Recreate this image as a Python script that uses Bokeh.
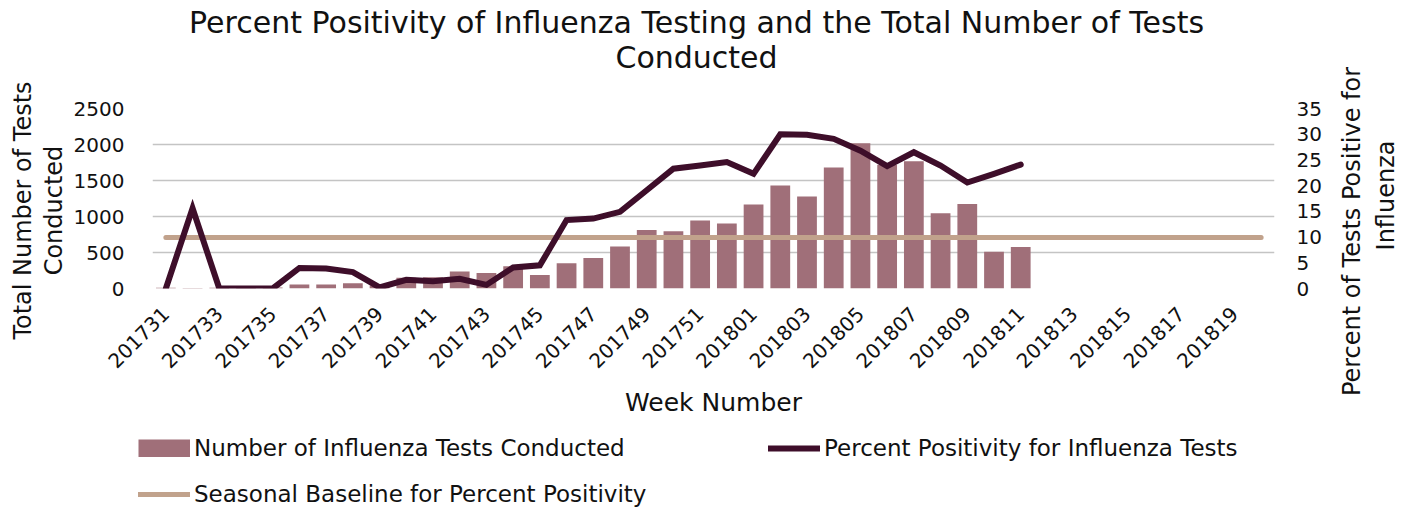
import math
from bokeh.plotting import figure
from bokeh.layouts import column, row
from bokeh.models import Range1d, LinearAxis, FixedTicker, Legend, LegendItem
from bokeh.core.properties import value
from bokeh.embed import file_html
from bokeh.resources import INLINE

# ---------------- data ----------------
weeks = ["201731", "201732", "201733", "201734", "201735", "201736", "201737",
         "201738", "201739", "201740", "201741", "201742", "201743", "201744",
         "201745", "201746", "201747", "201748", "201749", "201750", "201751",
         "201752", "201801", "201802", "201803", "201804", "201805", "201806",
         "201807", "201808", "201809", "201810", "201811", "201812", "201813",
         "201814", "201815", "201816", "201817", "201818", "201819", "201820"]

tests_conducted = [10, 6, 12, 9, 15, 55, 55, 74, 40, 150, 156, 235, 216, 308,
                   189, 350, 423, 584, 814, 796, 943, 902, 1168, 1431, 1279,
                   1679, 2019, 1720, 1766, 1044, 1173, 511, 575]

percent_positive = [0.0, 15.6, 0.0, 0.0, 0.0, 4.0, 3.9, 3.2, 0.2, 1.7, 1.4,
                    1.9, 0.7, 4.1, 4.5, 13.3, 13.6, 14.9, 19.1, 23.3, 23.9,
                    24.6, 22.3, 30.0, 29.9, 29.1, 26.8, 23.8, 26.5, 23.9, 20.6,
                    22.3, 24.1]

seasonal_baseline = [9.9, 9.9, 9.9, 9.9, 9.9, 9.9, 9.9, 9.9, 9.9, 9.9, 9.9,
                     9.9, 9.9, 9.9, 9.9, 9.9, 9.9, 9.9, 9.9, 9.9, 9.9, 9.9,
                     9.9, 9.9, 9.9, 9.9, 9.9, 9.9, 9.9, 9.9, 9.9, 9.9, 9.9,
                     9.9, 9.9, 9.9, 9.9, 9.9, 9.9, 9.9, 9.9, 9.9]

left_ticks = [0, 500, 1000, 1500, 2000, 2500]
right_ticks = [0, 5, 10, 15, 20, 25, 30, 35]

title_lines = ["Percent Positivity of Influenza Testing and the Total Number of Tests",
               "Conducted"]
x_title = "Week Number"
left_title_lines = ["Total Number of Tests", "Conducted"]
right_title_lines = ["Percent of Tests Positive for", "Influenza"]
legend_labels = ["Number of Influenza Tests Conducted",
                 "Percent Positivity for Influenza Tests",
                 "Seasonal Baseline for Percent Positivity"]

# ---------------- style ----------------
FONT = "DejaVu Sans"
TXT = "#111111"
BAR = "#A06F79"
LINE = "#3E0E2A"
BASE = "#C1A28C"
GRID = "#C4C4C4"

x_all = list(range(len(weeks)))
x_bar = x_all[:len(tests_conducted)]
x_pos = x_all[:len(percent_positive)]


def bare(fig):
    fig.grid.visible = False
    fig.outline_line_color = None
    fig.background_fill_color = None
    fig.border_fill_color = "white"
    return fig


# ---------------- left axis title (reads bottom-to-top) ----------------
l = bare(figure(width=70, height=420, output_backend="svg", toolbar_location=None,
                x_range=Range1d(0, 70), y_range=Range1d(420, 0),
                x_axis_location=None, y_axis_location=None, min_border=0,
                title=None))
l.text(x=[22, 53], y=[210, 210], text=left_title_lines, angle=math.pi / 2,
       text_align="center", text_baseline="middle", text_font=value(FONT),
       text_font_size="24px", text_color=TXT)

# ---------------- title strip ----------------
t = bare(figure(width=1260, height=90, output_backend="svg", toolbar_location=None,
                x_range=Range1d(148, 1274), y_range=Range1d(90, 0),
                x_axis_location=None, y_axis_location=None, min_border=0,
                min_border_left=78, min_border_right=56, title=None))
t.text(x=[694, 694], y=[22, 57], text=title_lines, text_align="center",
       text_baseline="middle", text_font=value(FONT), text_font_size="30px",
       text_color=TXT)

# ---------------- main chart ----------------
p = figure(width=1260, height=330, output_backend="svg", toolbar_location=None,
           x_range=Range1d(-0.5, len(weeks) - 0.5), y_range=Range1d(0, 2500),
           min_border_left=78, min_border_right=56, min_border_top=18,
           min_border_bottom=131, title=None)
p.outline_line_color = None
p.background_fill_color = "white"
p.border_fill_color = "white"
p.extra_y_ranges = {"pct": Range1d(0, 35)}

p.xgrid.visible = False
p.ygrid.ticker = FixedTicker(ticks=left_ticks)
p.ygrid.grid_line_color = GRID
p.ygrid.grid_line_width = 1.5

bars = p.vbar(x=x_bar, top=tests_conducted, width=0.74, fill_color=BAR,
              line_color=None)
base = p.line(x=x_all, y=seasonal_baseline, y_range_name="pct", line_color=BASE,
              line_width=5, line_cap="round")
pos = p.line(x=x_pos, y=percent_positive, y_range_name="pct", line_color=LINE,
             line_width=6, line_cap="round", line_join="miter")

ya = p.yaxis[0]
ya.ticker = FixedTicker(ticks=left_ticks)
ya.axis_line_color = None
ya.major_tick_line_color = None
ya.minor_tick_line_color = None
ya.major_label_standoff = 22
ya.major_label_text_font = FONT
ya.major_label_text_font_size = "20px"
ya.major_label_text_color = TXT

ra = LinearAxis(y_range_name="pct", ticker=FixedTicker(ticks=right_ticks))
ra.axis_line_color = None
ra.major_tick_line_color = None
ra.minor_tick_line_color = None
ra.major_label_standoff = 16
ra.major_label_text_font = FONT
ra.major_label_text_font_size = "20px"
ra.major_label_text_color = TXT
p.add_layout(ra, "right")

xa = p.xaxis[0]
tick_idx = x_all[::2]
xa.ticker = FixedTicker(ticks=tick_idx)
xa.major_label_overrides = {i: weeks[i] for i in tick_idx}
xa.major_label_orientation = math.pi / 4
xa.axis_line_color = None
xa.major_tick_line_color = None
xa.minor_tick_line_color = None
xa.major_label_standoff = 16
xa.major_label_text_font = FONT
xa.major_label_text_font_size = "20px"
xa.major_label_text_color = TXT
xa.axis_label = x_title
xa.axis_label_text_font = FONT
xa.axis_label_text_font_size = "25px"
xa.axis_label_text_font_style = "normal"
xa.axis_label_text_color = TXT
xa.axis_label_standoff = 11

# ---------------- right axis title (reads bottom-to-top) ----------------
r = bare(figure(width=81, height=420, output_backend="svg", toolbar_location=None,
                x_range=Range1d(0, 81), y_range=Range1d(420, 0),
                x_axis_location=None, y_axis_location=None, min_border=0,
                title=None))
r.text(x=[21, 55], y=[231, 195], text=right_title_lines, angle=math.pi / 2,
       text_align="center", text_baseline="middle", text_font=value(FONT),
       text_font_size="24px", text_color=TXT)

# ---------------- legend strip ----------------
lg = bare(figure(width=1411, height=88, output_backend="svg", toolbar_location=None,
                 x_range=Range1d(-1000, -999), y_range=Range1d(0, 1),
                 x_axis_location=None, y_axis_location=None, min_border=0,
                 title=None))
# legend swatches reuse the chart data; the data lie outside this strip's range
d_bar = lg.line(x=x_bar, y=tests_conducted, line_color=BAR, line_width=18,
                line_cap="butt")
d_pos = lg.line(x=x_pos, y=percent_positive, line_color=LINE, line_width=6,
                line_cap="round")
d_base = lg.line(x=x_all, y=seasonal_baseline, line_color=BASE, line_width=5,
                 line_cap="round")

leg = Legend(items=[LegendItem(label=legend_labels[0], renderers=[d_bar]),
                    LegendItem(label=legend_labels[1], renderers=[d_pos]),
                    LegendItem(label=legend_labels[2], renderers=[d_base])],
             orientation="horizontal", ncols=2, location=(138, 1))
leg.border_line_color = None
leg.background_fill_alpha = 0
leg.padding = 0
leg.margin = 0
leg.spacing = 20
leg.glyph_width = 52
leg.glyph_height = 18
leg.label_standoff = 4
leg.label_width = 554
leg.label_height = 18
leg.label_text_font = FONT
leg.label_text_font_size = "23px"
leg.label_text_color = TXT
lg.add_layout(leg)

layout = column(row(l, column(t, p, spacing=0), r, spacing=0), lg, spacing=0)
open("out.html", "w").write(file_html(layout, INLINE))
